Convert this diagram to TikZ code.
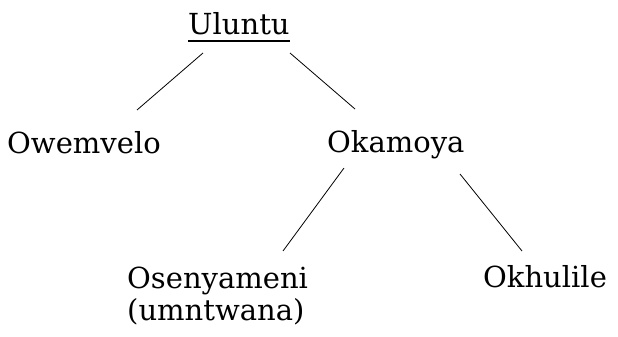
\documentclass[tikz,border=0pt]{standalone}
\usepackage{fontspec}
\setmainfont{DejaVu Serif}
\begin{document}
\begin{tikzpicture}[x=1pt,y=-1pt,
  word/.style={anchor=base west,inner sep=0pt,font=\fontsize{29}{32}\selectfont},
  edge/.style={line width=0.8pt},
  ul/.style={line width=1.6pt}]
\useasboundingbox (0,0) rectangle (618,337);
\node[word] (u) at (188,35) {Uluntu};
\node[word] (ow) at (7,153) {Owemvelo};
\node[word] (ok) at (327,152) {Okamoya};
\node[word] (os) at (127,288) {Osenyameni};
\node[word] (um) at (127,320) {(umntwana)};
\node[word] (kh) at (483,287) {Okhulile};
\draw[ul] ([yshift=-6pt]u.base west) -- ([yshift=-6pt]u.base east);
\draw[edge] ([shift={(15,18)}]u.base west) -- ([shift={(130,-43)}]ow.base west);
\draw[edge] ([shift={(102,18)}]u.base west) -- ([shift={(28,-43)}]ok.base west);
\draw[edge] ([shift={(17,16)}]ok.base west) -- ([shift={(156,-37)}]os.base west);
\draw[edge] ([shift={(133,22)}]ok.base west) -- ([shift={(39,-36)}]kh.base west);
\end{tikzpicture}
\end{document}
